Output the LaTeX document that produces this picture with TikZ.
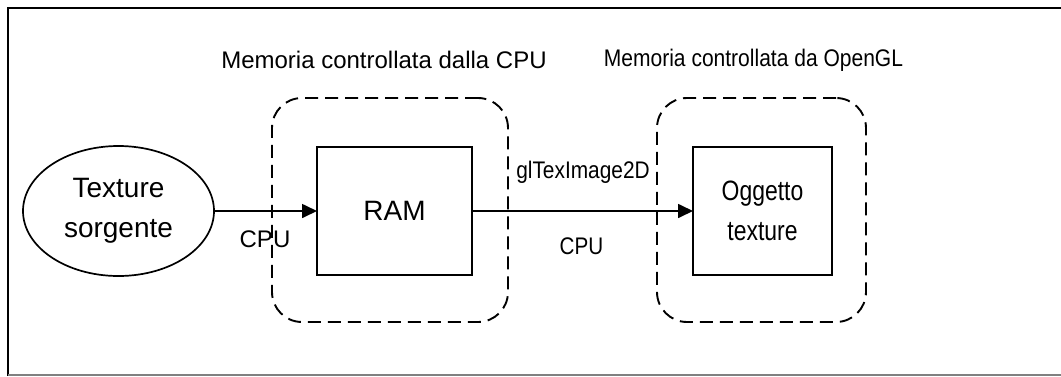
\documentclass[tikz,border=0pt]{standalone}
\usepackage{fontspec}
\setmainfont{Liberation Sans}
\usetikzlibrary{arrows.meta,shapes.geometric}
\begin{document}
\begin{tikzpicture}[x=1pt,y=-1pt,
  every node/.style={inner sep=0pt, outer sep=0pt},
  lbl/.style={font=\fontsize{24}{28}\selectfont},
  big/.style={font=\fontsize{28}{40}\selectfont, align=center},
  region/.style={draw, dash pattern=on 13pt off 7pt, line width=1.9pt, rounded corners=30pt},
  blk/.style={draw, line width=1.7pt, minimum height=128pt},
  arr/.style={line width=1.7pt, -{Triangle[length=15pt,width=14pt]}}]
\useasboundingbox (0,0) rectangle (1061,376);
\draw[line width=2.2pt] (8,376) -- (8,8) -- (1062,8);
\draw[gray, line width=1.5pt] (8,375) -- (1062,375);
% regions
\node[region, minimum width=236pt, minimum height=224pt] (r1) at (390,210) {};
\node[region, minimum width=209pt, minimum height=224pt] (r2) at (761.5,210) {};
% nodes
\node[ellipse, draw, line width=1.7pt, minimum width=191pt, minimum height=130pt, big] (src) at (118.5,211) {Texture\\sorgente};
\node[blk, minimum width=155pt, big] (ram) at (394.5,211) {RAM};
\node[blk, minimum width=139pt, big] (obj) at (762.5,211) {\scalebox{0.82}[1]{Oggetto}\\\scalebox{0.82}[1]{texture}};
% labels
\node[lbl] (t1) at (384,60) {Memoria controllata dalla CPU};
\node[lbl] (t2) at (753.5,60) {\scalebox{0.876}[1]{Memoria controllata da OpenGL}};
\node[lbl] (c1) at (265,239) {CPU};
\node[lbl] (gl) at (583,172) {\scalebox{0.87}[1]{glTexImage2D}};
\node[lbl] (c2) at (581.5,246) {\scalebox{0.86}[1]{CPU}};
% arrows
\draw[arr] (src.east) -- (ram.west);
\draw[arr] (ram.east) -- (obj.west);
\end{tikzpicture}
\end{document}
